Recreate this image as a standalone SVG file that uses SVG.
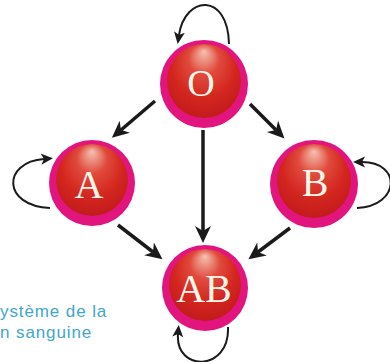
<svg xmlns="http://www.w3.org/2000/svg" width="390" height="362" viewBox="0 0 390 362">
<defs>
<radialGradient id="red" cx="0.5" cy="0.4" r="0.6" fx="0.5" fy="0.1">
<stop offset="0" stop-color="#f6c2b2"/>
<stop offset="0.35" stop-color="#e04a3c"/>
<stop offset="0.7" stop-color="#d4261f"/>
<stop offset="1" stop-color="#c21b1c"/>
</radialGradient>
<marker id="big" markerUnits="userSpaceOnUse" markerWidth="18" markerHeight="18" viewBox="0 0 18 18" refX="5" refY="9" orient="auto">
<path d="M0,1 L17,9 L0,17 L5,9 z" fill="#1a1a1a"/>
</marker>
<marker id="small" markerUnits="userSpaceOnUse" markerWidth="13" markerHeight="13" viewBox="0 0 13 13" refX="3" refY="6.5" orient="auto">
<path d="M0,1 L12,6.5 L0,12 L3,6.5 z" fill="#1a1a1a"/>
</marker>
</defs>
<style>
.ring{fill:#e2157f}
.core{fill:url(#red)}
.lbl{font-family:"Liberation Serif","Times New Roman",serif;fill:#fff6ea;text-anchor:middle}
.arr{stroke:#1a1a1a;stroke-width:3.5;fill:none;marker-end:url(#big)}
.loop{stroke:#1a1a1a;stroke-width:2;fill:none;marker-end:url(#small)}
.cap{font-family:"Liberation Sans",Arial,sans-serif;font-size:17px;letter-spacing:0.9px;fill:#3fa6cc}
</style>
<g id="connectors">
<line class="arr" x1="155" y1="101" x2="121" y2="130"/>
<line class="arr" x1="250" y1="104" x2="276" y2="130"/>
<line class="arr" x1="203" y1="130" x2="203" y2="231"/>
<line class="arr" x1="118" y1="225" x2="153" y2="252"/>
<line class="arr" x1="290" y1="228" x2="258" y2="252"/>
<path class="loop" d="M229 44 C228 -8 185 -5 179 35"/>
<path class="loop" d="M50 208 C2 206 2 162 44 159"/>
<path class="loop" d="M357 208 C400 206 402 162 362 162"/>
<path class="loop" d="M228 327 C230 372 175 372 178 334"/>
</g>
<g id="node-O">
<circle class="ring" cx="204" cy="84" r="44"/>
<circle class="core" cx="204" cy="81" r="37"/>
<text class="lbl" x="201" y="96" font-size="38">O</text>
</g>
<g id="node-A">
<circle class="ring" cx="92" cy="183" r="43"/>
<circle class="core" cx="92" cy="180" r="36"/>
<text class="lbl" x="89" y="198" font-size="40">A</text>
</g>
<g id="node-B">
<circle class="ring" cx="314" cy="184" r="44"/>
<circle class="core" cx="314" cy="181" r="37"/>
<text class="lbl" x="315" y="196" font-size="40">B</text>
</g>
<g id="node-AB">
<circle class="ring" cx="205" cy="288" r="43"/>
<circle class="core" cx="205" cy="285" r="36"/>
<text class="lbl" x="204" y="302" font-size="40">AB</text>
</g>
<text class="cap" x="0" y="317">ystème de la</text>
<text class="cap" x="0" y="338">n sanguine</text>
</svg>
